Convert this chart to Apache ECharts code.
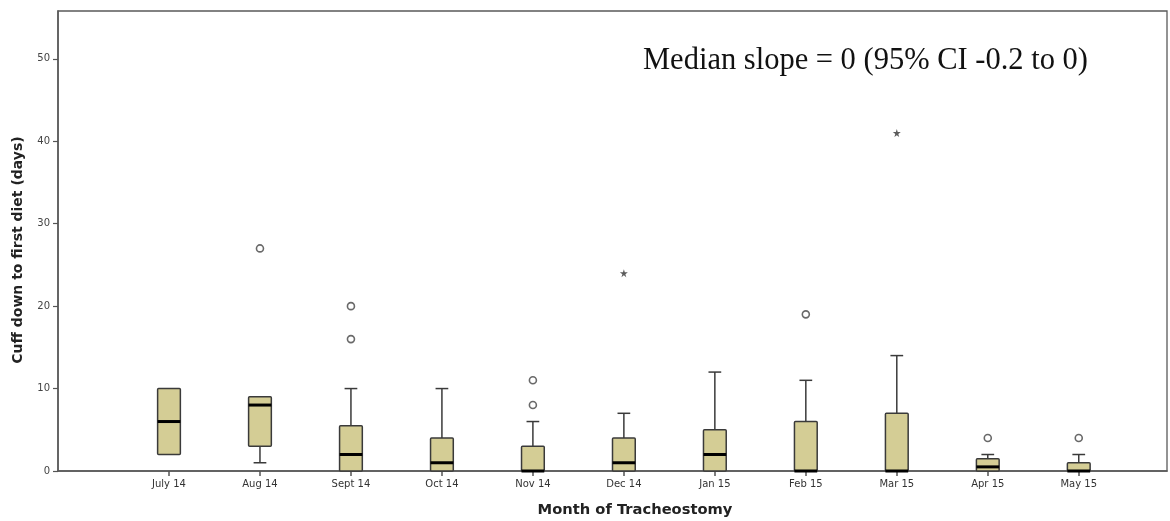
<!DOCTYPE html>
<html>
<head>
<meta charset="utf-8">
<script src="https://cdn.jsdelivr.net/npm/echarts@6/dist/echarts.min.js"></script>
<style>
  html, body { margin: 0; padding: 0; background: #fff; }
  #chart { width: 1170px; height: 521px; }
</style>
</head>
<body>
<div id="chart"></div>
<script>
// Month of tracheostomy
const categories = ['July 14', 'Aug 14', 'Sept 14', 'Oct 14', 'Nov 14', 'Dec 14',
                    'Jan 15', 'Feb 15', 'Mar 15', 'Apr 15', 'May 15'];
// Box-plot statistics, days from cuff down to first diet
const whiskerLow  = [2, 1, 0, 0, 0, 0, 0, 0, 0, 0, 0];
const q1          = [2, 3, 0, 0, 0, 0, 0, 0, 0, 0, 0];
const median      = [6, 8, 2, 1, 0, 1, 2, 0, 0, 0.5, 0];
const q3          = [10, 9, 5.5, 4, 3, 4, 5, 6, 7, 1.5, 1];
const whiskerHigh = [10, 9, 10, 10, 6, 7, 12, 11, 14, 2, 2];
// Outliers (circles) and extremes (stars): [category index, days]
const outliers = [[1, 27], [2, 20], [2, 16], [4, 11], [4, 8], [7, 19], [9, 4], [10, 4]];
const extremes = [[5, 24], [8, 41]];
const yTicks = [0, 10, 20, 30, 40, 50];

const boxData = categories.map((c, i) => [i, whiskerLow[i], q1[i], median[i], q3[i], whiskerHigh[i]]);
const catIdx = categories.map((c, i) => i);

const chart = echarts.init(document.getElementById('chart'), null, { renderer: 'canvas' });

const lineCol = '#3a3a3a';
const frameCol = '#5a5a5a';
const boxFill = '#d4cd95';

function renderBox(params, api) {
  const i = api.value(0);
  const lo = api.value(1), b1 = api.value(2), md = api.value(3), b3 = api.value(4), hi = api.value(5);
  const boxW = api.size([0.25, 0])[0];
  const capW = api.size([0.14, 0])[0];
  const pLo = api.coord([i, lo]);
  const p1 = api.coord([i, b1]);
  const pm = api.coord([i, md]);
  const p3 = api.coord([i, b3]);
  const pHi = api.coord([i, hi]);
  const x = p1[0];
  const children = [];
  const lineStyle = { stroke: lineCol, lineWidth: 1.5 };
  if (hi > b3) {
    children.push({ type: 'line', shape: { x1: x, y1: p3[1], x2: x, y2: pHi[1] }, style: lineStyle });
    children.push({ type: 'line', shape: { x1: x - capW / 2, y1: pHi[1], x2: x + capW / 2, y2: pHi[1] }, style: lineStyle });
  }
  if (lo < b1) {
    children.push({ type: 'line', shape: { x1: x, y1: p1[1], x2: x, y2: pLo[1] }, style: lineStyle });
    children.push({ type: 'line', shape: { x1: x - capW / 2, y1: pLo[1], x2: x + capW / 2, y2: pLo[1] }, style: lineStyle });
  }
  children.push({
    type: 'rect',
    shape: { x: x - boxW / 2, y: p3[1], width: boxW, height: p1[1] - p3[1], r: 1 },
    style: { fill: boxFill, stroke: lineCol, lineWidth: 1.5 }
  });
  children.push({
    type: 'line',
    shape: { x1: x - boxW / 2, y1: pm[1], x2: x + boxW / 2, y2: pm[1] },
    style: { stroke: '#000', lineWidth: 3 }
  });
  return { type: 'group', children: children };
}

const option = {
  animation: false,
  backgroundColor: '#fff',
  grid: {
    left: 58, top: 11, right: 3, bottom: 50,
    show: true, borderColor: frameCol, borderWidth: 1.3, backgroundColor: 'transparent'
  },
  xAxis: {
    type: 'value',
    min: -1.22,
    max: 10.97,
    splitLine: { show: false },
    axisLine: { show: true, onZero: false, lineStyle: { color: frameCol, width: 1.6 } },
    axisTick: { show: true, customValues: catIdx, length: 5, lineStyle: { color: '#555', width: 1.5 } },
    axisLabel: {
      customValues: catIdx,
      formatter: v => categories[Math.round(v)],
      color: '#333', fontSize: 10, fontFamily: 'DejaVu Sans', margin: 8
    }
  },
  yAxis: {
    type: 'value',
    min: 0,
    max: 55.8,
    interval: 10,
    splitLine: { show: false },
    axisLine: { show: true, onZero: false, lineStyle: { color: frameCol, width: 1.6 } },
    axisTick: { show: true, customValues: yTicks, length: 5, lineStyle: { color: '#555', width: 1.2 } },
    axisLabel: {
      customValues: yTicks,
      color: '#444', fontSize: 10, fontFamily: 'DejaVu Sans', margin: 8
    }
  },
  graphic: [
    {
      type: 'text', x: 643, y: 45,
      style: {
        text: 'Median slope = 0 (95% CI -0.2 to 0)', font: '30.5px "Liberation Serif"', fill: '#111',
        verticalAlign: 'top'
      }
    },
    {
      type: 'text', x: 18, y: 250, rotation: Math.PI / 2,
      style: {
        text: 'Cuff down to first diet (days)', font: 'bold 14px "DejaVu Sans"', fill: '#222',
        align: 'center', verticalAlign: 'middle'
      }
    },
    {
      type: 'text', x: 635, y: 510,
      style: {
        text: 'Month of Tracheostomy', font: 'bold 14.7px "DejaVu Sans"', fill: '#222',
        align: 'center', verticalAlign: 'middle'
      }
    }
  ],
  series: [
    {
      type: 'custom',
      renderItem: renderBox,
      encode: { x: 0, y: [1, 2, 3, 4, 5] },
      data: boxData,
      z: 2
    },
    {
      type: 'scatter',
      data: outliers,
      symbol: 'circle',
      symbolSize: 7,
      itemStyle: { color: '#fff', borderColor: '#444', borderWidth: 1.6 },
      z: 3
    },
    {
      type: 'scatter',
      data: extremes,
      symbol: 'path://M50,0 L61,35 L98,35 L68,57 L79,91 L50,70 L21,91 L32,57 L2,35 L39,35 Z',
      symbolSize: 8,
      itemStyle: { color: '#333' },
      z: 3
    }
  ]
};

chart.setOption(option);
</script>
</body>
</html>
